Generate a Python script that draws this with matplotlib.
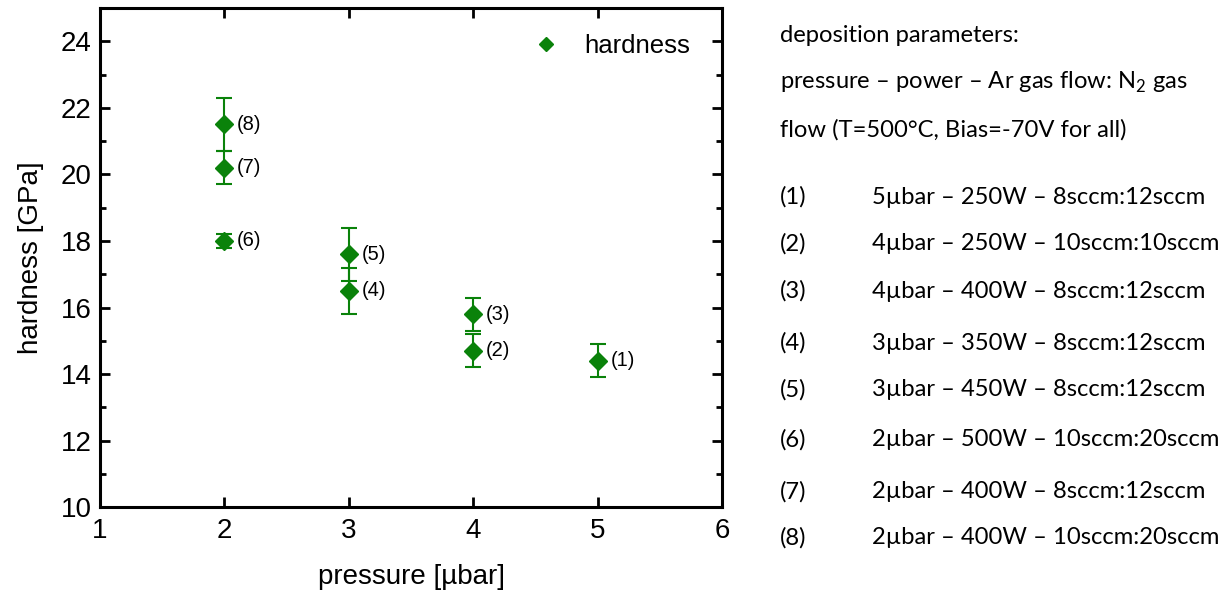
import matplotlib
matplotlib.use('Agg')
import matplotlib.pyplot as plt
from matplotlib.lines import Line2D
from matplotlib.ticker import MultipleLocator

# hardness vs. deposition pressure, samples (1)..(8)
sample_ids = ['(1)', '(2)', '(3)', '(4)', '(5)', '(6)', '(7)', '(8)']
pressure = [5, 4, 4, 3, 3, 2, 2, 2]
hardness = [14.4, 14.7, 15.8, 16.5, 17.6, 18.0, 20.2, 21.5]
hardness_err = [0.5, 0.5, 0.5, 0.7, 0.8, 0.2, 0.5, 0.8]

# deposition parameters per sample
params = [
    '5µbar – 250W – 8sccm:12sccm',
    '4µbar – 250W – 10sccm:10sccm',
    '4µbar – 400W – 8sccm:12sccm',
    '3µbar – 350W – 8sccm:12sccm',
    '3µbar – 450W – 8sccm:12sccm',
    '2µbar – 500W – 10sccm:20sccm',
    '2µbar – 400W – 8sccm:12sccm',
    '2µbar – 400W – 10sccm:20sccm',
]

green = '#0a820a'
plt.rcParams['font.family'] = ['Liberation Sans', 'DejaVu Sans']
plt.rcParams['mathtext.fontset'] = 'custom'
plt.rcParams['mathtext.rm'] = 'Lato'

fig = plt.figure(figsize=(12.32, 5.96), dpi=100)
ax = fig.add_axes([0.0812, 0.149, 0.505, 0.8376])

ax.errorbar(pressure, hardness, yerr=hardness_err, fmt='D', color=green,
            ms=9, elinewidth=1.5, capsize=6, capthick=1.5)
for x, y, s in zip(pressure, hardness, sample_ids):
    ax.annotate(s, (x, y), xytext=(9, 0), textcoords='offset points',
                va='center', ha='left', fontsize=14.5)

ax.set_xlim(1, 6)
ax.set_ylim(10, 25)
ax.xaxis.set_major_locator(MultipleLocator(1))
ax.set_yticks(range(10, 25, 2))
ax.yaxis.set_minor_locator(MultipleLocator(1))
ax.tick_params(which='both', direction='in', top=True, right=True,
               width=2, labelsize=20)
ax.tick_params(which='major', length=7)
ax.tick_params(axis='x', which='major', pad=8)
ax.tick_params(axis='y', which='major', pad=6)
ax.tick_params(which='minor', length=4)
ax.tick_params(axis='x', which='minor', top=False, bottom=False)
for sp in ax.spines.values():
    sp.set_linewidth(2.2)

ax.set_xlabel('pressure [µbar]', fontsize=20, labelpad=14)
ax.set_ylabel('hardness [GPa]', fontsize=20, labelpad=12)

handle = Line2D([], [], ls='none', marker='D', ms=7.5, color=green)
ax.legend([handle], ['hardness'], loc='center left', frameon=False,
          fontsize=18.5, handlelength=1, handletextpad=1.0,
          borderpad=0, borderaxespad=0,
          bbox_to_anchor=((533 - 100) / 622, 1 - (46 - 8) / 499))

# parameter list to the right of the plot
tf = dict(fontsize=17.1, family=['Lato', 'DejaVu Sans'], va='center', ha='left')
fig.text(780 / 1232, 1 - 35 / 596, 'deposition parameters:', **tf)
fig.text(780 / 1232, 1 - 82 / 596, r'pressure – power – Ar gas flow: N$_\mathregular{2}$ gas', **tf)
fig.text(780 / 1232, 1 - 130 / 596, 'flow (T=500°C, Bias=-70V for all)', **tf)
row_y = [197, 244, 291, 343, 390, 440, 492, 538]
for s, p, yy in zip(sample_ids, params, row_y):
    fig.text(780 / 1232, 1 - yy / 596, s, **tf)
    fig.text(872 / 1232, 1 - yy / 596, p, **tf)

fig.savefig('out.png', dpi=100)
